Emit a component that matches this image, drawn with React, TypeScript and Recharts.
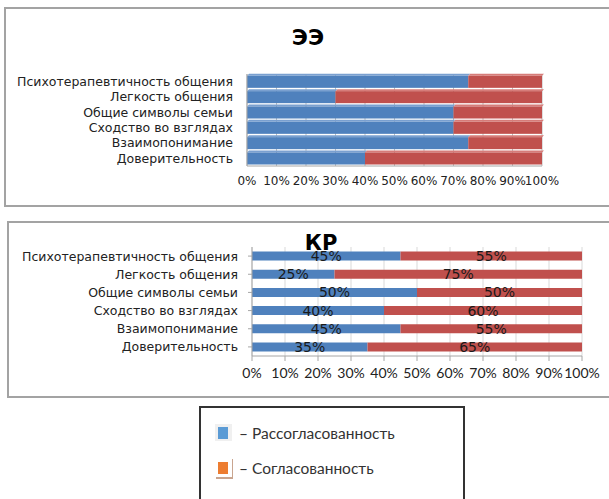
import React from "react";
import { BarChart, Bar, XAxis, YAxis, CartesianGrid, LabelList } from "recharts";

const categories = [
  "Психотерапевтичность общения",
  "Легкость общения",
  "Общие символы семьи",
  "Сходство во взглядах",
  "Взаимопонимание",
  "Доверительность",
];
const eeDisagree = [75, 30, 70, 70, 75, 40];
const eeAgree = [25, 70, 30, 30, 25, 60];
const krDisagree = [45, 25, 50, 40, 45, 35];
const krAgree = [55, 75, 50, 60, 55, 65];
const ticks = [0, 10, 20, 30, 40, 50, 60, 70, 80, 90, 100];
const seriesNames = ["Рассогласованность", "Согласованность"];

const eeData = categories.map((c, i) => ({ name: c, d: eeDisagree[i], a: eeAgree[i] }));
const krData = categories.map((c, i) => ({ name: c, d: krDisagree[i], a: krAgree[i] }));

const BLUE = "#4F81BD";
const RED = "#C0504D";

const Bar3D = (props: any) => {
  const { x, y, width, height, fill, light } = props;
  if (!width || width <= 0) return null;
  const d = 2;
  return (
    <g>
      <polygon
        points={`${x},${y} ${x + d},${y - d} ${x + width + d},${y - d} ${x + width},${y}`}
        fill={light}
      />
      <rect x={x} y={y} width={width} height={height} fill={fill} />
    </g>
  );
};

const pct = (v: any) => `${v}%`;

export default function App() {
  return (
    <div
      style={{
        position: "absolute",
        left: 0,
        top: 0,
        width: 609,
        height: 499,
        overflow: "hidden",
        background: "#fff",
      }}
    >
      {/* Chart 1 frame */}
      <div
        style={{
          position: "absolute",
          left: 4,
          top: 7,
          width: 640,
          height: 196,
          border: "2px solid #a3a3a3",
        }}
      />
      <div style={{ position: "absolute", left: 0, top: 0 }}>
        <BarChart
          width={609}
          height={205}
          data={eeData}
          layout="vertical"
          margin={{ top: 74, right: 67, bottom: 14, left: 0 }}
          barCategoryGap="12%"
        >
          <text x={308} y={45} textAnchor="middle" fontFamily="DejaVu Sans" fontWeight="bold" fontSize={22} fill="#000">
            ЭЭ
          </text>
          <CartesianGrid horizontal={false} stroke="#bdbdbd" />
          <XAxis
            type="number"
            domain={[0, 100]}
            ticks={ticks}
            tickFormatter={pct}
            height={25}
            axisLine={{ stroke: "#a6a6a6" }}
            tickLine={false}
            tickSize={0}
            tickMargin={10}
            interval={0}
            tick={{ fontFamily: "DejaVu Sans", fontSize: 12, fill: "#222" }}
          />
          <YAxis
            type="category"
            dataKey="name"
            width={247}
            axisLine={{ stroke: "#a6a6a6" }}
            tickLine={false}
            tickSize={0}
            tickMargin={14}
            interval={0}
            tick={{ fontFamily: "DejaVu Sans", fontSize: 12.5, fill: "#222" }}
          />
          <Bar dataKey="d" stackId="s" fill={BLUE} isAnimationActive={false} shape={(p: any) => <Bar3D {...p} light="#7aa0d0" />} />
          <Bar dataKey="a" stackId="s" fill={RED} isAnimationActive={false} shape={(p: any) => <Bar3D {...p} light="#d67c79" />} />
        </BarChart>
      </div>

      {/* Chart 2 frame */}
      <div
        style={{
          position: "absolute",
          left: 7,
          top: 221,
          width: 640,
          height: 173,
          border: "2px solid #a3a3a3",
        }}
      />
      <div style={{ position: "absolute", left: 0, top: 222 }}>
        <BarChart
          width={609}
          height={174}
          data={krData}
          layout="vertical"
          margin={{ top: 25, right: 27, bottom: 12, left: 0 }}
          barCategoryGap="25%"
        >
          <text x={321} y={28} textAnchor="middle" fontFamily="DejaVu Sans" fontWeight="bold" fontSize={21} fill="#000">
            КР
          </text>
          <CartesianGrid horizontal={false} stroke="#d9d9d9" />
          <XAxis
            type="number"
            domain={[0, 100]}
            ticks={ticks}
            tickFormatter={pct}
            height={28}
            axisLine={{ stroke: "#a6a6a6" }}
            tickLine={{ stroke: "#a6a6a6" }}
            tickSize={5}
            tickMargin={7}
            interval={0}
            tick={{ fontFamily: "Lato", fontSize: 14, fill: "#222" }}
          />
          <YAxis
            type="category"
            dataKey="name"
            width={252}
            axisLine={{ stroke: "#a6a6a6" }}
            tickLine={{ stroke: "#a6a6a6" }}
            tickSize={4}
            tickMargin={10}
            interval={0}
            tick={{ fontFamily: "DejaVu Sans", fontSize: 12.5, fill: "#222" }}
          />
          <Bar dataKey="d" stackId="s" fill={BLUE} isAnimationActive={false}>
            <LabelList dataKey="d" position="center" formatter={pct} fill="#1a1a1a" fontFamily="DejaVu Sans" fontSize={14} />
          </Bar>
          <Bar dataKey="a" stackId="s" fill={RED} isAnimationActive={false}>
            <LabelList dataKey="a" position="center" formatter={pct} fill="#1a1a1a" fontFamily="DejaVu Sans" fontSize={14} />
          </Bar>
        </BarChart>
      </div>

      {/* Legend */}
      <div
        style={{
          position: "absolute",
          left: 199,
          top: 406,
          width: 262,
          height: 120,
          border: "2px solid #333",
          fontFamily: "Lato",
          fontSize: 15.5,
          color: "#333",
        }}
      >
        <div style={{ position: "absolute", left: 14, top: 16, width: 17, height: 17, background: "#f0f0f0" }} />
        <div style={{ position: "absolute", left: 17, top: 19, width: 10, height: 12, background: "#5B9BD5" }} />
        <div style={{ position: "absolute", left: 38, top: 16, lineHeight: "18px", whiteSpace: "nowrap" }}>
          – {seriesNames[0]}
        </div>
        <div style={{ position: "absolute", left: 15, top: 51, width: 16, height: 18, borderRight: "1px solid #c9a58f", borderBottom: "2px solid #c9a58f" }} />
        <div style={{ position: "absolute", left: 17, top: 54, width: 10, height: 12, background: "#ED7D31" }} />
        <div style={{ position: "absolute", left: 38, top: 51, lineHeight: "18px", whiteSpace: "nowrap" }}>
          – {seriesNames[1]}
        </div>
      </div>
    </div>
  );
}
